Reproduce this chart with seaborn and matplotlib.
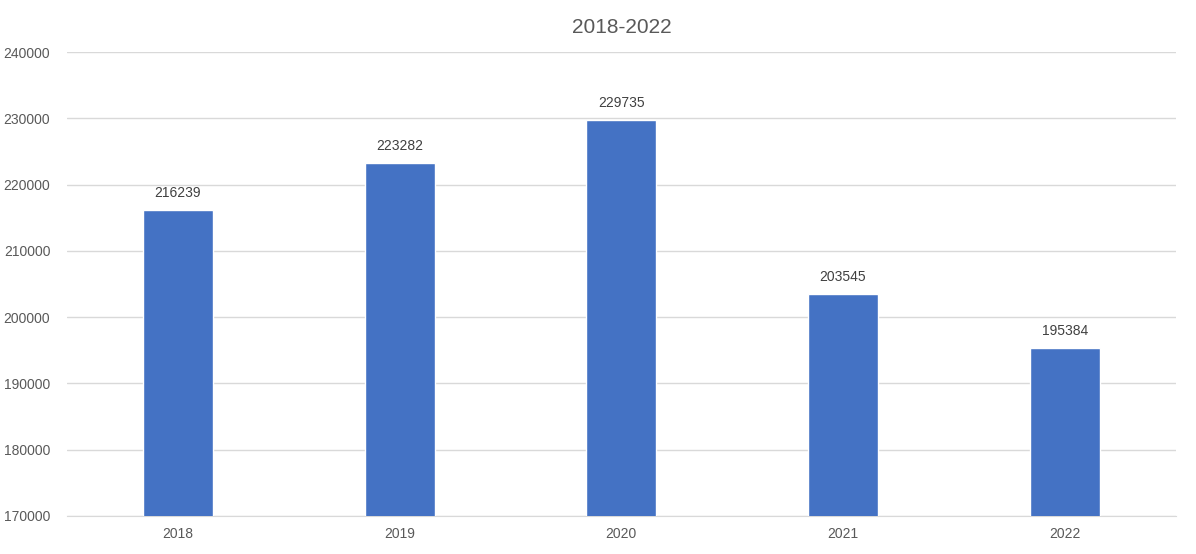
import matplotlib
matplotlib.use("Agg")
import matplotlib.pyplot as plt
import seaborn as sns
import pandas as pd

# Values
years = ['2018', '2019', '2020', '2021', '2022']
totals = [216239, 223282, 229735, 203545, 195384]

df = pd.DataFrame({'Year': years, 'Total': totals})

sns.set_style('white')
plt.rcParams['font.family'] = ['Calibri', 'Liberation Sans', 'DejaVu Sans']

fig = plt.figure(figsize=(11.96, 5.54), dpi=100)
ax = fig.add_axes([0.056, 0.0686, 0.927, 0.8375])

sns.barplot(data=df, x='Year', y='Total', color='#4472C4', width=0.315,
            saturation=1, ax=ax, zorder=3)

ax.set_ylim(170000, 240000)
ax.set_yticks(range(170000, 240001, 10000))
ax.yaxis.grid(True, color='#D9D9D9', linewidth=1, zorder=0)
ax.set_axisbelow(True)

for i, v in enumerate(totals):
    ax.text(i, v + 1500, str(v), ha='center', va='bottom', fontsize=10, color='#404040')

ax.set_title('2018-2022', fontsize=15, color='#595959', pad=14)
ax.set_xlabel('')
ax.set_ylabel('')
ax.tick_params(axis='both', labelsize=10, colors='#595959', length=0)
ax.tick_params(axis='x', pad=8)
ax.tick_params(axis='y', pad=12)

for side in ['top', 'right', 'left']:
    ax.spines[side].set_visible(False)
ax.spines['bottom'].set_color('#D9D9D9')

plt.savefig('out.png', dpi=100)
